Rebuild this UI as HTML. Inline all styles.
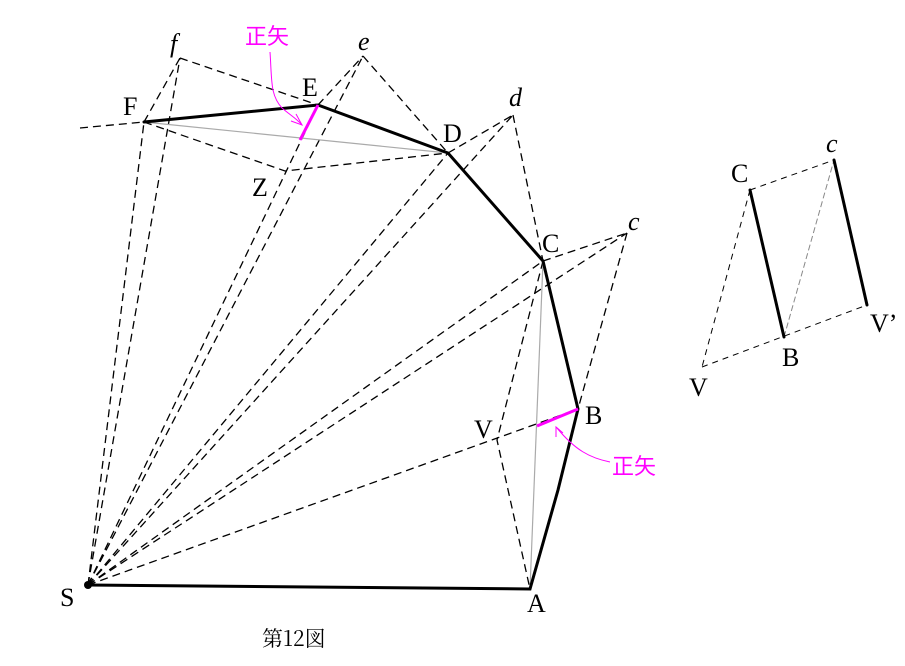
<!DOCTYPE html>
<html><head><meta charset="utf-8"><style>
html,body{margin:0;padding:0;background:#fff;}
svg{display:block;}
text{font-family:"Liberation Serif","Noto Serif CJK SC",serif;fill:#000;}
.lb{font-size:26px;}
.it{font-style:italic;font-size:26px;}
.d{stroke:#000;stroke-width:1.3;stroke-dasharray:8 5;fill:none;}
.dt{stroke:#000;stroke-width:1;stroke-dasharray:6 5;fill:none;}
.th{stroke:#000;stroke-width:3;fill:none;stroke-linecap:round;}
.g{stroke:#aaa;stroke-width:1.2;fill:none;}
.m{stroke:#ff00ff;stroke-width:1;fill:none;}
</style></head><body>
<svg width="905" height="666" viewBox="0 0 905 666" xmlns="http://www.w3.org/2000/svg">
<g class="d">
<line x1="88" y1="585" x2="144" y2="122"/>
<line x1="88" y1="585" x2="180" y2="58"/>
<line x1="88" y1="585" x2="318" y2="105"/>
<line x1="88" y1="585" x2="363" y2="56"/>
<line x1="88" y1="585" x2="448" y2="153"/>
<line x1="88" y1="585" x2="513" y2="115"/>
<line x1="88" y1="585" x2="543" y2="261"/>
<line x1="88" y1="585" x2="627" y2="233"/>
<line x1="88" y1="585" x2="578" y2="409"/>
<line x1="80" y1="128" x2="144" y2="122"/>
<line x1="144" y1="122" x2="180" y2="58"/>
<line x1="180" y1="58" x2="318" y2="105"/>
<line x1="318" y1="105" x2="363" y2="56"/>
<line x1="363" y1="56" x2="448" y2="153"/>
<line x1="448" y1="153" x2="513" y2="115"/>
<line x1="513" y1="115" x2="543" y2="261"/>
<line x1="543" y1="261" x2="627" y2="233"/>
<line x1="627" y1="233" x2="578" y2="409"/>
<polyline points="144,122 285,171 448,153"/>
<polyline points="543,261 497,440 530,589"/>
</g>
<line class="g" x1="144" y1="122" x2="448" y2="153"/>
<line class="g" x1="543" y1="261" x2="530" y2="589"/>
<polyline class="th" points="88,585 530,589 558,490 578,409 543,261 448,153 318,105 144,122"/>
<circle cx="88" cy="585" r="4"/>
<line x1="318" y1="105" x2="300" y2="140" stroke="#ff00ff" stroke-width="3"/>
<line x1="578" y1="409" x2="537" y2="426" stroke="#ff00ff" stroke-width="3"/>
<path class="m" d="M270,52 C272,80 270,95 282,108 C290,115 296,118 302,125"/>
<path class="m" d="M296,114 L302,125 L291,121"/>
<path class="m" d="M610,462 C590,458 575,450 557,428"/>
<path class="m" d="M556,437 L556,427 L563,433"/>
<text class="lb" x="60" y="606">S</text>
<text class="lb" x="527" y="612">A</text>
<text class="lb" x="585" y="424">B</text>
<text class="lb" x="474" y="438">V</text>
<text class="lb" x="542" y="252">C</text>
<text class="it" x="628" y="230">c</text>
<text class="lb" x="443" y="142">D</text>
<text class="it" x="509" y="106">d</text>
<text class="lb" x="302" y="96">E</text>
<text class="it" x="358" y="50">e</text>
<text class="lb" x="123" y="115">F</text>
<text class="it" x="170" y="52">f</text>
<text class="lb" x="252" y="196">Z</text>
<text x="245" y="44" style="font-size:22px;font-family:'Noto Sans CJK JP',sans-serif;fill:#ff00ff">正矢</text>
<text x="612" y="474" style="font-size:22px;font-family:'Noto Sans CJK JP',sans-serif;fill:#ff00ff">正矢</text>
<text x="262" y="646" style="font-size:21px;font-family:'Noto Serif CJK SC',serif">第12図</text>
<g class="dt">
<line x1="750" y1="190" x2="834" y2="160"/>
<line x1="750" y1="190" x2="702" y2="367"/>
<line x1="702" y1="367" x2="867" y2="305"/>
</g>
<line x1="784" y1="337" x2="834" y2="160" stroke="#888" stroke-width="1" stroke-dasharray="6 3"/>
<line class="th" x1="750" y1="190" x2="784" y2="337"/>
<line class="th" x1="834" y1="160" x2="867" y2="305"/>
<text class="lb" x="731" y="182">C</text>
<text class="it" x="826" y="152">c</text>
<text class="lb" x="870" y="332">V’</text>
<text class="lb" x="782" y="366">B</text>
<text class="lb" x="689" y="396">V</text>
</svg>
</body></html>
